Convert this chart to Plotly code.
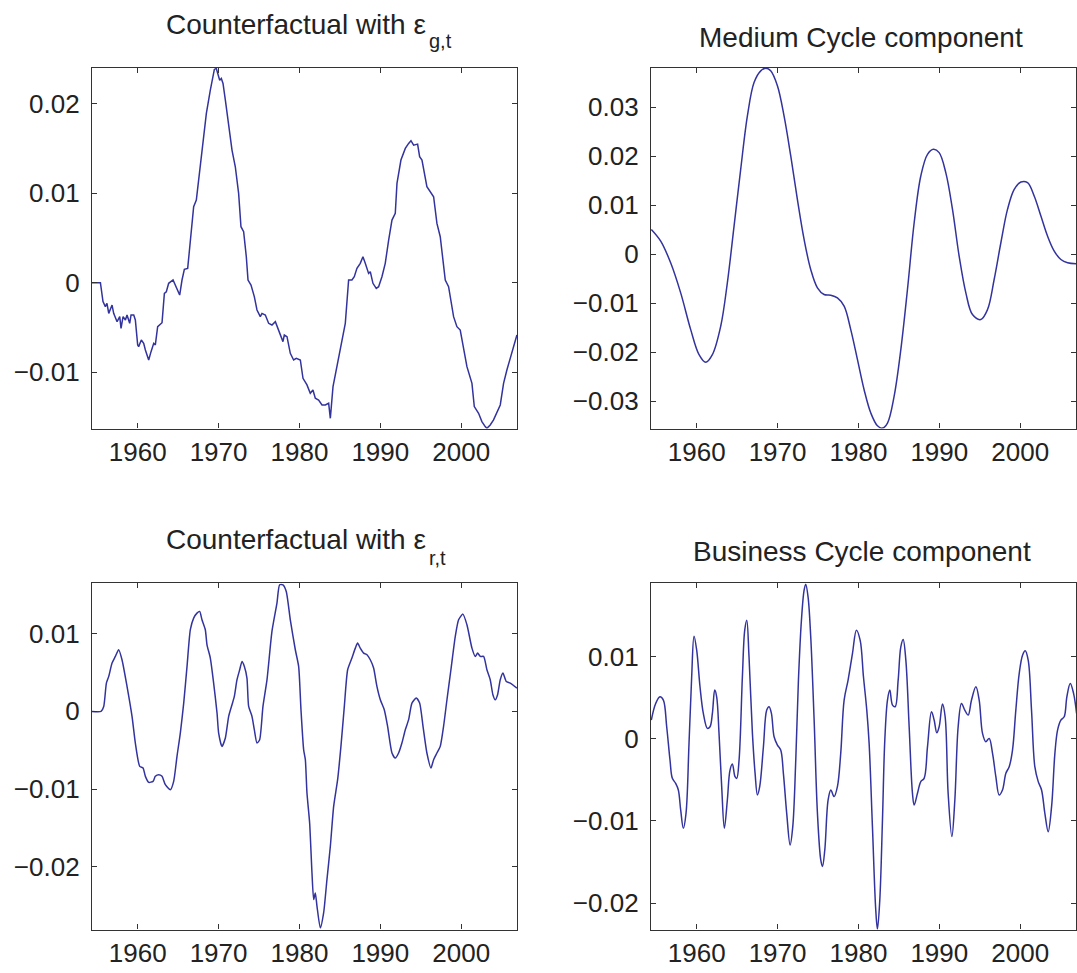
import plotly.graph_objects as go

# ---------------- data ----------------
g_years = [1954.35, 1955.39, 1955.71, 1956.00, 1956.20, 1956.42, 1956.83, 1957.03, 1957.45, 1957.78,
           1957.94, 1958.19, 1958.48, 1958.68, 1959.01, 1959.18, 1959.51, 1959.71, 1960.00, 1960.12,
           1960.45, 1960.74, 1960.95, 1961.36, 1961.65, 1961.98, 1962.18, 1962.47, 1963.01, 1963.30,
           1963.54, 1963.83, 1964.37, 1964.86, 1965.19, 1965.48, 1965.77, 1966.18, 1966.51, 1966.92,
           1967.25, 1967.54, 1967.95, 1968.24, 1968.49, 1968.98, 1969.31, 1969.48, 1969.72, 1969.89,
           1970.14, 1970.34, 1970.55, 1970.84, 1971.25, 1971.66, 1972.07, 1972.48, 1972.77, 1973.10,
           1973.43, 1973.64, 1974.01, 1974.42, 1974.75, 1975.16, 1975.37, 1975.78, 1976.19, 1976.60,
           1977.02, 1977.43, 1977.96, 1978.13, 1978.46, 1978.87, 1979.28, 1979.61, 1980.11, 1980.44,
           1980.93, 1981.34, 1981.67, 1981.96, 1982.37, 1982.79, 1983.20, 1983.61, 1983.82, 1984.15,
           1984.64, 1985.26, 1985.67, 1986.08, 1986.49, 1986.78, 1987.11, 1987.52, 1987.85, 1988.14,
           1988.55, 1988.76, 1989.09, 1989.50, 1989.79, 1990.20, 1990.61, 1991.03, 1991.44, 1991.85,
           1992.06, 1992.55, 1993.09, 1993.50, 1993.79, 1994.12, 1994.61, 1994.86, 1995.15, 1995.76,
           1996.59, 1997.00, 1997.41, 1998.03, 1998.44, 1999.06, 1999.47, 1999.88, 2000.09, 2000.71,
           2001.33, 2001.62, 2002.15, 2002.56, 2002.97, 2003.18, 2003.59, 2004.00, 2004.83, 2005.24,
           2005.65, 2006.27, 2006.89]
g_values = [0.0, 0.0, -0.00212, -0.00268, -0.00230, -0.00343, -0.00250, -0.00343, -0.00436, -0.00380,
            -0.00510, -0.00380, -0.00417, -0.00361, -0.00454, -0.00361, -0.00361, -0.00417, -0.00696, -0.00715,
            -0.00641, -0.00678, -0.00752, -0.00864, -0.00771, -0.00678, -0.00696, -0.00492, -0.00447, -0.00119,
            -0.00101, -0.00007, 0.00030, -0.00082, -0.00138, 0.00030, 0.00149, 0.00160, 0.00439, 0.00849,
            0.00924, 0.01147, 0.01408, 0.01631, 0.01892, 0.02153, 0.02302, 0.02384, 0.02395, 0.02339,
            0.02264, 0.02283, 0.02227, 0.02041, 0.01780, 0.01482, 0.01296, 0.00998, 0.00626, 0.00570,
            0.00290, 0.00030, -0.00026, -0.00156, -0.00305, -0.00380, -0.00343, -0.00361, -0.00454, -0.00473,
            -0.00436, -0.00529, -0.00659, -0.00585, -0.00603, -0.00790, -0.00864, -0.00845, -0.00864, -0.01069,
            -0.01143, -0.01236, -0.01199, -0.01292, -0.01311, -0.01367, -0.01367, -0.01348, -0.01516, -0.01162,
            -0.00920, -0.00641, -0.00454, 0.00030, 0.00030, 0.00067, 0.00160, 0.00216, 0.00290, 0.00216,
            0.00104, 0.00123, -0.00007, -0.00063, -0.00045, 0.00067, 0.00216, 0.00477, 0.00700, 0.00775,
            0.01110, 0.01371, 0.01501, 0.01557, 0.01587, 0.01538, 0.01549, 0.01408, 0.01371, 0.01073,
            0.00961, 0.00663, 0.00514, 0.00030, -0.00045, -0.00380, -0.00492, -0.00529, -0.00641, -0.00939,
            -0.01125, -0.01385, -0.01460, -0.01553, -0.01609, -0.01628, -0.01590, -0.01534, -0.01367, -0.01125,
            -0.00976, -0.00790, -0.00585]

mc_years = [1954.39, 1955.55, 1956.78, 1958.02, 1959.26, 1960.29, 1961.11, 1961.94, 1962.97, 1963.79,
            1964.62, 1965.44, 1966.27, 1967.09, 1967.92, 1968.54, 1969.15, 1969.98, 1970.80, 1971.63,
            1972.45, 1973.28, 1974.10, 1974.93, 1975.75, 1976.58, 1977.40, 1978.23, 1979.05, 1979.88,
            1980.70, 1981.53, 1982.35, 1982.97, 1983.59, 1984.41, 1985.24, 1986.06, 1986.89, 1987.71,
            1988.54, 1989.28, 1989.98, 1990.80, 1991.63, 1992.45, 1993.28, 1994.10, 1995.13, 1995.96,
            1996.78, 1997.61, 1998.43, 1999.26, 2000.08, 2000.91, 2001.73, 2002.56, 2003.38, 2004.21,
            2005.03, 2005.86, 2006.97]
mc_values = [0.00504, 0.00266, -0.00177, -0.00791, -0.01541, -0.02052, -0.02209, -0.02052, -0.01472, -0.00586,
             0.00573, 0.01731, 0.02822, 0.03504, 0.03742, 0.03797, 0.03742, 0.03436, 0.02822, 0.02004,
             0.01118, 0.00300, -0.00314, -0.00688, -0.00825, -0.00838, -0.00893, -0.01063, -0.01541, -0.02154,
             -0.02768, -0.03245, -0.03504, -0.03552, -0.03449, -0.02904, -0.01950, -0.00723, 0.00641, 0.01595,
             0.02038, 0.02140, 0.02072, 0.01663, 0.00913, -0.00041, -0.00791, -0.01234, -0.01336, -0.01132,
             -0.00518, 0.00232, 0.00913, 0.01322, 0.01472, 0.01459, 0.01186, 0.00777, 0.00368, 0.00061,
             -0.00109, -0.00177, -0.00198]

r_years = [1954.35, 1955.47, 1955.80, 1956.13, 1956.42, 1956.83, 1957.24, 1957.65, 1958.06, 1958.68,
           1959.30, 1959.71, 1960.25, 1960.66, 1960.95, 1961.36, 1961.90, 1962.18, 1962.60, 1963.01,
           1963.42, 1964.04, 1964.45, 1964.86, 1965.27, 1965.69, 1966.10, 1966.51, 1966.92, 1967.33,
           1967.66, 1967.95, 1968.36, 1968.57, 1968.98, 1969.39, 1969.81, 1970.01, 1970.42, 1970.84,
           1971.25, 1971.66, 1971.95, 1972.28, 1972.61, 1972.90, 1973.19, 1973.51, 1973.72, 1974.13,
           1974.42, 1974.75, 1975.08, 1975.49, 1975.99, 1976.60, 1977.22, 1977.55, 1977.96, 1978.37,
           1978.87, 1979.49, 1979.90, 1980.19, 1980.52, 1980.73, 1980.93, 1981.26, 1981.55, 1981.76,
           1981.96, 1982.17, 1982.58, 1982.99, 1983.40, 1983.82, 1984.23, 1984.72, 1985.13, 1985.55,
           1985.96, 1986.49, 1986.91, 1987.19, 1987.52, 1987.94, 1988.35, 1988.76, 1989.17, 1989.58,
           1990.00, 1990.49, 1990.90, 1991.44, 1991.85, 1992.26, 1992.67, 1993.09, 1993.50, 1993.91,
           1994.45, 1994.86, 1995.28, 1995.76, 1996.26, 1996.59, 1997.00, 1997.41, 1997.82, 1998.24,
           1998.73, 1999.27, 1999.68, 2000.21, 2000.71, 2001.33, 2001.74, 2002.03, 2002.36, 2002.77,
           2003.18, 2003.59, 2003.92, 2004.21, 2004.50, 2004.83, 2005.16, 2005.57, 2006.06, 2006.89]
r_values = [0.0, 0.0, 0.00064, 0.00365, 0.00451, 0.00622, 0.00708, 0.00794, 0.00665, 0.00322,
            -0.00064, -0.00408, -0.00708, -0.00730, -0.00837, -0.00914, -0.00901, -0.00837, -0.00815, -0.00837,
            -0.00944, -0.01009, -0.00901, -0.00579, -0.00279, 0.00107, 0.00579, 0.01052, 0.01202, 0.01266,
            0.01288, 0.01180, 0.01052, 0.00858, 0.00687, 0.00365, -0.00021, -0.00279, -0.00451, -0.00343,
            -0.00064, 0.00086, 0.00193, 0.00408, 0.00536, 0.00644, 0.00579, 0.00429, 0.00064, -0.00064,
            -0.00236, -0.00408, -0.00365, 0.00064, 0.00408, 0.01030, 0.01395, 0.01631, 0.01631, 0.01545,
            0.01180, 0.00794, 0.00579, 0.00021, -0.00494, -0.00622, -0.01052, -0.01438, -0.02082, -0.02425,
            -0.02339, -0.02511, -0.02790, -0.02597, -0.02167, -0.01738, -0.01223, -0.00880, -0.00451, 0.00064,
            0.00536, 0.00687, 0.00815, 0.00880, 0.00815, 0.00751, 0.00730, 0.00665, 0.00558, 0.00322,
            0.00150, 0.00021, -0.00193, -0.00536, -0.00601, -0.00536, -0.00408, -0.00236, -0.00107, 0.00107,
            0.00172, 0.00107, -0.00193, -0.00536, -0.00730, -0.00622, -0.00536, -0.00451, -0.00193, 0.00150,
            0.00536, 0.00966, 0.01180, 0.01253, 0.01116, 0.00815, 0.00708, 0.00751, 0.00708, 0.00708,
            0.00536, 0.00408, 0.00215, 0.00150, 0.00215, 0.00408, 0.00494, 0.00386, 0.00365, 0.00300]

bc_years = [1954.39, 1954.93, 1955.46, 1955.88, 1956.29, 1956.70, 1956.99, 1957.40, 1957.73, 1958.02,
            1958.35, 1958.68, 1959.05, 1959.38, 1959.67, 1960.00, 1960.41, 1960.82, 1961.32, 1961.65,
            1961.94, 1962.23, 1962.47, 1962.76, 1963.09, 1963.42, 1963.79, 1964.12, 1964.41, 1964.74,
            1964.95, 1965.24, 1965.65, 1965.94, 1966.19, 1966.47, 1966.89, 1967.22, 1967.51, 1967.79,
            1968.25, 1968.66, 1968.95, 1969.24, 1969.57, 1969.98, 1970.39, 1970.72, 1971.13, 1971.55,
            1971.88, 1972.25, 1972.58, 1972.95, 1973.28, 1973.48, 1973.77, 1974.10, 1974.52, 1974.93,
            1975.34, 1975.55, 1975.84, 1976.25, 1976.58, 1976.99, 1977.40, 1977.81, 1978.23, 1978.72,
            1979.26, 1979.75, 1980.21, 1980.62, 1981.03, 1981.32, 1981.73, 1982.14, 1982.35, 1982.64,
            1982.97, 1983.26, 1983.59, 1983.88, 1984.21, 1984.54, 1984.91, 1985.24, 1985.53, 1985.86,
            1986.27, 1986.68, 1986.89, 1987.30, 1987.71, 1988.12, 1988.54, 1989.03, 1989.36, 1989.69,
            1989.98, 1990.39, 1990.72, 1991.09, 1991.55, 1991.92, 1992.33, 1992.74, 1993.15, 1993.57,
            1993.98, 1994.52, 1994.93, 1995.34, 1995.75, 1996.16, 1996.58, 1996.99, 1997.40, 1997.81,
            1998.23, 1998.64, 1999.05, 1999.46, 1999.88, 2000.29, 2000.62, 2000.99, 2001.40, 2001.81,
            2002.23, 2002.64, 2003.05, 2003.46, 2003.88, 2004.29, 2004.62, 2005.03, 2005.44, 2005.77,
            2006.19, 2006.60, 2006.97]
bc_values = [0.00227, 0.00429, 0.00510, 0.00470, 0.00146, -0.00259, -0.00482, -0.00543, -0.00623, -0.00866,
             -0.01089, -0.00907, -0.00057, 0.00753, 0.01247, 0.01077, 0.00632, 0.00308, 0.00126, 0.00146,
             0.00308, 0.00591, 0.00510, 0.00065, -0.00583, -0.01089, -0.00745, -0.00381, -0.00308, -0.00462,
             -0.00482, -0.00259, 0.00753, 0.01320, 0.01441, 0.00996, 0.00065, -0.00421, -0.00684, -0.00583,
             -0.00097, 0.00348, 0.00389, 0.00308, 0.00024, -0.00077, -0.00138, -0.00421, -0.00907, -0.01291,
             -0.01069, -0.00259, 0.00713, 0.01441, 0.01806, 0.01879, 0.01725, 0.01239, 0.00227, -0.00907,
             -0.01474, -0.01555, -0.01352, -0.00745, -0.00623, -0.00704, -0.00583, -0.00178, 0.00470, 0.00713,
             0.01036, 0.01320, 0.01198, 0.00753, 0.00348, -0.00057, -0.01069, -0.02081, -0.02316, -0.01960,
             -0.00988, -0.00016, 0.00470, 0.00591, 0.00409, 0.00389, 0.00713, 0.01117, 0.01206, 0.00955,
             0.00146, -0.00664, -0.00806, -0.00664, -0.00522, -0.00482, -0.00097, 0.00328, 0.00227, 0.00073,
             0.00146, 0.00421, 0.00267, -0.00664, -0.01190, -0.00745, 0.00146, 0.00429, 0.00348, 0.00287,
             0.00470, 0.00632, 0.00470, 0.00065, -0.00036, 0.00004, -0.00178, -0.00462, -0.00684, -0.00623,
             -0.00421, -0.00340, -0.00138, 0.00348, 0.00794, 0.01016, 0.01069, 0.00955, 0.00348, -0.00340,
             -0.00522, -0.00623, -0.00907, -0.01130, -0.00826, -0.00178, 0.00105, 0.00227, 0.00267, 0.00510,
             0.00672, 0.00551, 0.00308]

x_tickvals = [1960, 1970, 1980, 1990, 2000]
x_ticktext = ["1960", "1970", "1980", "1990", "2000"]

tl_tickvals = [-0.01, 0, 0.01, 0.02]
tl_ticktext = ["\u22120.01", "0", "0.01", "0.02"]
tr_tickvals = [-0.03, -0.02, -0.01, 0, 0.01, 0.02, 0.03]
tr_ticktext = ["\u22120.03", "\u22120.02", "\u22120.01", "0", "0.01", "0.02", "0.03"]
bl_tickvals = [-0.02, -0.01, 0, 0.01]
bl_ticktext = ["\u22120.02", "\u22120.01", "0", "0.01"]
br_tickvals = [-0.02, -0.01, 0, 0.01]
br_ticktext = ["\u22120.02", "\u22120.01", "0", "0.01"]

# ---------------- figure ----------------
W, H = 1077, 973
LINE = "#33339e"
FRAME = "#333333"
FONT = "Liberation Sans, Arial, Helvetica, sans-serif"
TXT = "#222222"

def px_x(p):
    return p / W

def px_y(p):
    return 1 - p / H

fig = go.Figure()
fig.add_trace(go.Scatter(x=g_years, y=g_values, mode="lines", xaxis="x", yaxis="y",
                         line=dict(color=LINE, width=1.5), showlegend=False))
fig.add_trace(go.Scatter(x=mc_years, y=mc_values, mode="lines", xaxis="x2", yaxis="y2",
                         line=dict(color=LINE, width=1.5, shape="spline", smoothing=1.0), showlegend=False))
fig.add_trace(go.Scatter(x=r_years, y=r_values, mode="lines", xaxis="x3", yaxis="y3",
                         line=dict(color=LINE, width=1.5, shape="spline", smoothing=0.6), showlegend=False))
fig.add_trace(go.Scatter(x=bc_years, y=bc_values, mode="lines", xaxis="x4", yaxis="y4",
                         line=dict(color=LINE, width=1.5, shape="spline", smoothing=1.0), showlegend=False))

xrange_ = [1954.35, 2006.9]
left_dom = [px_x(92), px_x(517)]
right_dom = [px_x(651), px_x(1076)]
top_dom = [px_y(428.5), px_y(68)]
bot_dom = [px_y(929.5), px_y(583.3)]

def xaxis(domain, anchor):
    return dict(domain=domain, anchor=anchor, range=xrange_, tickmode="array",
                tickvals=x_tickvals, ticktext=x_ticktext, ticks="inside", ticklen=5,
                tickwidth=1, tickcolor=FRAME, showline=True, linecolor=FRAME, linewidth=1.3,
                mirror="ticks", showgrid=False, zeroline=False, ticklabelstandoff=0,
                tickfont=dict(family=FONT, size=26, color=TXT))

def yaxis(domain, anchor, rng, vals, text):
    return dict(domain=domain, anchor=anchor, range=rng, tickmode="array",
                tickvals=vals, ticktext=text, ticks="inside", ticklen=5,
                tickwidth=1, tickcolor=FRAME, showline=True, linecolor=FRAME, linewidth=1.3,
                mirror="ticks", showgrid=False, zeroline=False, ticklabelstandoff=6,
                tickfont=dict(family=FONT, size=26, color=TXT))

fig.update_layout(
    width=W, height=H, margin=dict(l=0, r=0, t=0, b=0),
    paper_bgcolor="white", plot_bgcolor="white",
    xaxis=xaxis(left_dom, "y"),
    yaxis=yaxis(top_dom, "x", [-0.0163, 0.0240], tl_tickvals, tl_ticktext),
    xaxis2=xaxis(right_dom, "y2"),
    yaxis2=yaxis(top_dom, "x2", [-0.0356, 0.0380], tr_tickvals, tr_ticktext),
    xaxis3=xaxis(left_dom, "y3"),
    yaxis3=yaxis(bot_dom, "x3", [-0.0281, 0.0165], bl_tickvals, bl_ticktext),
    xaxis4=xaxis(right_dom, "y4"),
    yaxis4=yaxis(bot_dom, "x4", [-0.0232, 0.0189], br_tickvals, br_ticktext),
)

def title(text, x, y, anchor, size=28):
    fig.add_annotation(text=text, x=px_x(x), y=px_y(y), xref="paper", yref="paper",
                       xanchor=anchor, yanchor="middle", showarrow=False,
                       font=dict(family=FONT, size=size, color=TXT))

title("Counterfactual with \u03b5", 428, 24, "right")
title("g,t", 427, 41, "left", 20)
title("Medium Cycle component", 861, 37, "center")
title("Counterfactual with \u03b5", 428, 539, "right")
title("r,t", 427, 558, "left", 20)
title("Business Cycle component", 862, 551, "center")

fig.write_html("out.html")
